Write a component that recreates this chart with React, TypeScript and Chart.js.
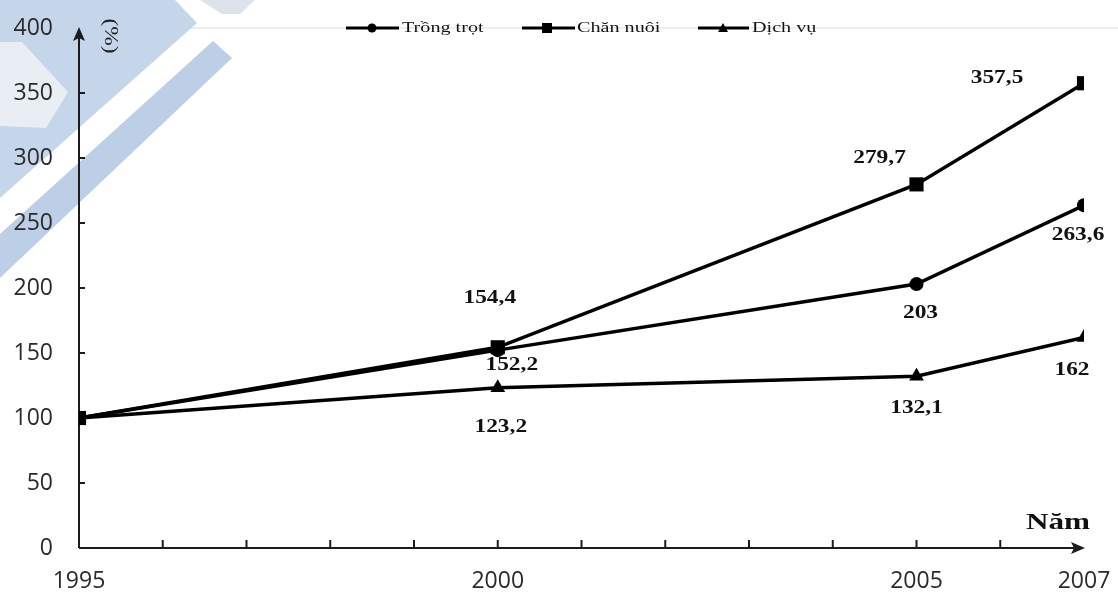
import React, { useEffect, useRef } from "react";
import { Chart, registerables } from "chart.js";

Chart.register(...registerables);

// ---- data ----
const years = [1995, 2000, 2005, 2007];
const trongTrot = [100, 152.2, 203, 263.6];
const chanNuoi = [100, 154.4, 279.7, 357.5];
const dichVu = [100, 123.2, 132.1, 162];
const seriesNames = ["Trồng trọt", "Chăn nuôi", "Dịch vụ"];
const xTickLabels = [1995, 2000, 2005, 2007];
const xMinorYears = [1996, 1997, 1998, 1999, 2000, 2001, 2002, 2003, 2004, 2005, 2006];
const yTicks = [0, 50, 100, 150, 200, 250, 300, 350, 400];
const yUnitLabel = "(%)";
const xUnitLabel = "Năm";

// label offsets (px) relative to each point, per series (style only)
const labelOffsetsTrong = [null, [14, 15], [4, 29], [-6, 30]];
const labelOffsetsChan = [null, [-8, -49], [-37, -26], [-87, -5]];
const labelOffsetsDich = [null, [3, 40], [0, 32], [-12, 33]];

const fmt = (v: number) => String(v).replace(".", ",");

function drawStretched(ctx: CanvasRenderingContext2D, text: string, x: number, y: number, font: string, sx: number, align: CanvasTextAlign = "center") {
  ctx.save();
  ctx.translate(x, y);
  ctx.scale(sx, 1);
  ctx.font = font;
  ctx.fillStyle = "#111";
  ctx.textAlign = align;
  ctx.textBaseline = "middle";
  ctx.fillText(text, 0, 0);
  ctx.restore();
}

function drawMarker(ctx: CanvasRenderingContext2D, style: string, x: number, y: number, s: number) {
  ctx.fillStyle = "#000";
  ctx.beginPath();
  if (style === "circle") {
    ctx.arc(x, y, s, 0, Math.PI * 2);
  } else if (style === "rect") {
    ctx.rect(x - s, y - s, 2 * s, 2 * s);
  } else {
    ctx.moveTo(x, y - s);
    ctx.lineTo(x + s, y + s * 0.8);
    ctx.lineTo(x - s, y + s * 0.8);
    ctx.closePath();
  }
  ctx.fill();
}

const decorPlugin = {
  id: "decor",
  beforeDraw(chart: any) {
    const ctx: CanvasRenderingContext2D = chart.ctx;
    const { top } = chart.chartArea;
    ctx.save();
    ctx.fillStyle = "#fff";
    ctx.fillRect(0, 0, chart.width, chart.height);
    // faint line at top
    ctx.strokeStyle = "#e8e8e8";
    ctx.lineWidth = 1.5;
    ctx.beginPath();
    ctx.moveTo(190, top);
    ctx.lineTo(chart.width, top);
    ctx.stroke();
    // watermark stripes
    ctx.fillStyle = "#c6d6ea";
    ctx.beginPath();
    ctx.moveTo(0, 0);
    ctx.lineTo(175, 0);
    ctx.lineTo(197, 23);
    ctx.lineTo(0, 198);
    ctx.closePath();
    ctx.fill();
    ctx.fillStyle = "#bccfe6";
    ctx.beginPath();
    ctx.moveTo(213, 41);
    ctx.lineTo(232, 58);
    ctx.lineTo(0, 278);
    ctx.lineTo(0, 234);
    ctx.closePath();
    ctx.fill();
    ctx.fillStyle = "#dde3ea";
    ctx.beginPath();
    ctx.moveTo(200, 0);
    ctx.lineTo(255, 0);
    ctx.lineTo(240, 14);
    ctx.lineTo(222, 14);
    ctx.closePath();
    ctx.fill();
    ctx.fillStyle = "#e9eef4";
    ctx.beginPath();
    ctx.moveTo(0, 42);
    ctx.lineTo(22, 42);
    ctx.lineTo(68, 92);
    ctx.lineTo(46, 128);
    ctx.lineTo(0, 126);
    ctx.closePath();
    ctx.fill();
    ctx.restore();
  },
  beforeDatasetsDraw(chart: any) {
    const ctx: CanvasRenderingContext2D = chart.ctx;
    const { left, right, top, bottom } = chart.chartArea;
    const xs = chart.scales.x;
    const ys = chart.scales.y;
    ctx.save();
    ctx.strokeStyle = "#1c1c1c";
    ctx.fillStyle = "#1c1c1c";
    ctx.lineWidth = 2;
    // y axis
    ctx.beginPath();
    ctx.moveTo(left, bottom);
    ctx.lineTo(left, top + 8);
    ctx.stroke();
    ctx.beginPath();
    ctx.moveTo(left, top - 1);
    ctx.lineTo(left - 6, top + 13);
    ctx.lineTo(left, top + 10);
    ctx.lineTo(left + 6, top + 13);
    ctx.closePath();
    ctx.fill();
    // x axis
    ctx.beginPath();
    ctx.moveTo(left, bottom);
    ctx.lineTo(right - 8, bottom);
    ctx.stroke();
    ctx.beginPath();
    ctx.moveTo(right + 1, bottom);
    ctx.lineTo(right - 13, bottom - 6);
    ctx.lineTo(right - 10, bottom);
    ctx.lineTo(right - 13, bottom + 6);
    ctx.closePath();
    ctx.fill();
    // ticks
    ctx.lineWidth = 2;
    yTicks.forEach((v) => {
      if (v === 0 || v === 400) return;
      const y = ys.getPixelForValue(v);
      ctx.beginPath();
      ctx.moveTo(left, y);
      ctx.lineTo(left + 6, y);
      ctx.stroke();
    });
    xMinorYears.forEach((yr) => {
      const x = xs.getPixelForValue(yr);
      ctx.beginPath();
      ctx.moveTo(x, bottom);
      ctx.lineTo(x, bottom - 8);
      ctx.stroke();
    });
    ctx.restore();
  },
  afterDatasetsDraw(chart: any) {
    const ctx: CanvasRenderingContext2D = chart.ctx;
    const offsets = [labelOffsetsTrong, labelOffsetsChan, labelOffsetsDich];
    const font = "bold 18px 'Liberation Serif'";
    chart.data.datasets.forEach((ds: any, i: number) => {
      const meta = chart.getDatasetMeta(i);
      meta.data.forEach((pt: any, j: number) => {
        const off = offsets[i][j];
        if (!off) return;
        drawStretched(ctx, fmt(ds.data[j].y), pt.x + off[0], pt.y + off[1], font, 1.3);
      });
    });
  },
  afterDraw(chart: any) {
    const ctx: CanvasRenderingContext2D = chart.ctx;
    const { right, bottom } = chart.chartArea;
    // legend
    const items = [
      { style: "circle", x0: 346, x1: 399, mx: 372, tx: 402, s: 4.5 },
      { style: "rect", x0: 522, x1: 575, mx: 547, tx: 577, s: 5 },
      { style: "triangle", x0: 698, x1: 749, mx: 723, tx: 752, s: 5 },
    ];
    const ly = 28;
    items.forEach((it, i) => {
      ctx.save();
      ctx.strokeStyle = "#000";
      ctx.lineWidth = 3;
      ctx.beginPath();
      ctx.moveTo(it.x0, ly);
      ctx.lineTo(it.x1, ly);
      ctx.stroke();
      drawMarker(ctx, it.style, it.mx, ly, it.s);
      ctx.restore();
      drawStretched(ctx, seriesNames[i], it.tx, ly, "15.5px 'Liberation Serif'", 1.3, "left");
    });
    // unit labels
    ctx.save();
    ctx.translate(110, 36);
    ctx.rotate(Math.PI / 2);
    ctx.scale(1.3, 1);
    ctx.font = "18px 'Liberation Serif'";
    ctx.fillStyle = "#222";
    ctx.textAlign = "center";
    ctx.textBaseline = "middle";
    ctx.fillText(yUnitLabel, 0, 0);
    ctx.restore();
    drawStretched(ctx, xUnitLabel, right - 26, bottom - 25, "bold 24px 'Liberation Serif'", 1.3);
  },
};

export default function App() {
  const ref = useRef<HTMLCanvasElement | null>(null);
  useEffect(() => {
    document.body.style.margin = "0";
    const ctx = ref.current!.getContext("2d")!;
    const mk = (arr: number[]) => years.map((x, i) => ({ x, y: arr[i] }));
    const chart = new Chart(ctx, {
      type: "line",
      data: {
        datasets: [
          {
            label: seriesNames[0],
            data: mk(trongTrot),
            borderColor: "#000",
            backgroundColor: "#000",
            borderWidth: 3.5,
            pointStyle: "circle",
            pointRadius: 7,
            pointBorderWidth: 0,
            order: 2,
          },
          {
            label: seriesNames[1],
            data: mk(chanNuoi),
            borderColor: "#000",
            backgroundColor: "#000",
            borderWidth: 3.5,
            pointStyle: "rect",
            pointRadius: 10,
            pointBorderWidth: 0,
            order: 0,
          },
          {
            label: seriesNames[2],
            data: mk(dichVu),
            borderColor: "#000",
            backgroundColor: "#000",
            borderWidth: 3.5,
            pointStyle: "triangle",
            pointRadius: 8.5,
            pointBorderWidth: 0,
            order: 1,
          },
        ] as any,
      },
      options: {
        animation: false,
        responsive: true,
        maintainAspectRatio: false,
        layout: { padding: { left: 0, right: 34, top: 28, bottom: 0 } },
        plugins: { legend: { display: false }, tooltip: { enabled: false }, title: { display: false } },
        scales: {
          x: {
            type: "linear",
            min: 1995,
            max: 2007,
            afterBuildTicks: (s: any) => {
              s.ticks = xTickLabels.map((v) => ({ value: v }));
            },
            afterFit: (s: any) => {
              s.height = 46;
              s.paddingLeft = 0;
              s.paddingRight = 0;
            },
            grid: { display: false, drawTicks: false },
            border: { display: false },
            ticks: {
              autoSkip: false,
              maxRotation: 0,
              padding: 20,
              color: "#2a2a2a",
              font: { family: "'Open Sans'", size: 23 },
              callback: (v: any) => String(v),
            },
          },
          y: {
            min: 0,
            max: 400,
            afterBuildTicks: (s: any) => {
              s.ticks = yTicks.map((v) => ({ value: v }));
            },
            afterFit: (s: any) => {
              s.width = 79;
              s.paddingTop = 0;
              s.paddingBottom = 0;
            },
            grid: { display: false, drawTicks: false },
            border: { display: false },
            ticks: {
              padding: 26,
              color: "#2a2a2a",
              font: { family: "'Open Sans'", size: 23 },
            },
          },
        },
      },
      plugins: [decorPlugin],
    });
    return () => chart.destroy();
  }, []);
  return (
    <div style={{ width: 1118, height: 594, position: "relative" }}>
      <canvas ref={ref} />
    </div>
  );
}
